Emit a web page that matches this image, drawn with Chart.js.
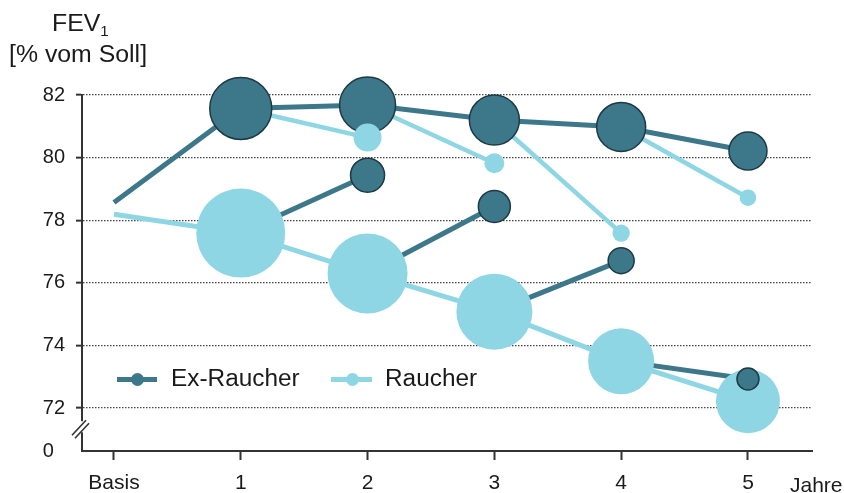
<!DOCTYPE html>
<html>
<head>
<meta charset="utf-8">
<script src="https://cdn.jsdelivr.net/npm/chart.js@4/dist/chart.umd.min.js"></script>
<style>
html,body{margin:0;padding:0;background:#fff;}
#wrap{position:relative;width:844px;height:493px;overflow:hidden;font-family:'Liberation Sans',Arial,Helvetica,sans-serif;color:#1a1a1a;}
canvas{position:absolute;left:0;top:0;}
.t{position:absolute;white-space:nowrap;transform-origin:0 0;}
.lg-line{position:absolute;height:5px;}
.lg-dot{position:absolute;width:13px;height:13px;border-radius:50%;}
</style>
</head>
<body>
<div id="wrap">
  <canvas id="c" width="844" height="493"></canvas>
  <div class="t" style="left:52px;top:12px;font-size:23px;line-height:23px;transform:scaleX(1.08)">FEV<span style="font-size:14px;position:relative;top:5px">1</span></div>
  <div class="t" style="left:9px;top:43px;font-size:23px;line-height:23px;transform:scaleX(1.08)">[% vom Soll]</div>

  <div class="lg-line" style="left:117px;top:377px;width:40px;background:#3d788a"></div>
  <div class="lg-dot" style="left:131px;top:373px;background:#3d788a"></div>
  <div class="t" style="left:171px;top:367px;font-size:23px;line-height:23px;transform:scaleX(1.06)">Ex-Raucher</div>

  <div class="lg-line" style="left:331px;top:377px;width:41px;background:#8ed6e3"></div>
  <div class="lg-dot" style="left:346px;top:373px;background:#8ed6e3"></div>
  <div class="t" style="left:385px;top:367px;font-size:23px;line-height:23px;transform:scaleX(1.06)">Raucher</div>

  <div class="t" style="left:790px;top:474px;font-size:21px;line-height:21px;">Jahre</div>
</div>
<script>
// ---- data ----
const categories = ['Basis', '1', '2', '3', '4', '5'];
const years = [0, 1, 2, 3, 4, 5];
// main groups
const exRaucher = [78.57, 81.57, 81.68, 81.2, 80.98, 80.21];
const raucher   = [78.19, 77.59, 76.3, 75.08, 73.5, 72.22];
// transitions: smokers of previous year who quit / ex-smokers who relapsed
const neueExRaucher = [null, null, 79.44, 78.44, 76.71, 72.93];
const rueckfaellige = [null, null, 80.64, 79.82, 77.59, 78.72];
// bubble sizes (group size)
const exRaucherGroesse = [0, 31, 28, 25, 24.5, 19];
const raucherGroesse   = [0, 44.5, 40, 38, 33, 32];
const neueExRaucherGroesse = [0, 0, 17, 16, 13, 11];
const rueckfaelligeGroesse = [0, 0, 14, 10, 8.7, 8.3];
// axis
const yTicks = [72, 74, 76, 78, 80, 82];
const yBreakValue = 70.63;   // shown as "0" below the axis break
const yBreakLabel = '0  ';

const DARK = '#3d788a', DARK_EDGE = '#1d3a44', LIGHT = '#8ed6e3';

function series(vals) {
  return years.map((x, i) => ({ x: x, y: vals[i] }));
}
function transition(fromVals, toVals) {
  const d = [];
  for (let i = 1; i < years.length; i++) {
    if (toVals[i] == null) continue;
    d.push({ x: years[i - 1], y: fromVals[i - 1] }, { x: years[i], y: toVals[i] }, { x: years[i], y: null });
  }
  return d;
}
function endpoints(vals) {
  return years.map((x, i) => ({ x: x, y: vals[i] })).filter(p => p.y != null);
}

const breakPlugin = {
  id: 'axisBreak',
  afterDraw(chart) {
    const ctx = chart.ctx, ys = chart.scales.y;
    const x0 = ys.right;
    const p72 = ys.getPixelForValue(yTicks[0]);
    const cy = ys.bottom - 0.53 * (ys.bottom - p72);
    ctx.save();
    ctx.fillStyle = '#fff';
    ctx.fillRect(x0 - 3, cy - 7, 6, 11);
    ctx.strokeStyle = '#333';
    ctx.lineWidth = 1.6;
    ctx.beginPath();
    ctx.moveTo(x0 - 10, cy + 7); ctx.lineTo(x0 + 4, cy - 8);
    ctx.moveTo(x0 - 7, cy + 10); ctx.lineTo(x0 + 7, cy - 5);
    ctx.stroke();
    ctx.restore();
  }
};

Chart.defaults.font.family = "'Liberation Sans', Arial, Helvetica, sans-serif";
Chart.defaults.color = '#1a1a1a';

new Chart(document.getElementById('c'), {
  type: 'line',
  data: {
    datasets: [
      { // dark endpoint circles (new ex-smokers)
        data: endpoints(neueExRaucher), showLine: false, clip: false, order: 0,
        pointRadius: neueExRaucherGroesse.filter((r, i) => neueExRaucher[i] != null),
        pointBackgroundColor: DARK, pointBorderColor: DARK_EDGE, pointBorderWidth: 1.5
      },
      { // light endpoint circles (relapsed)
        data: endpoints(rueckfaellige), showLine: false, clip: false, order: 1,
        pointRadius: rueckfaelligeGroesse.filter((r, i) => rueckfaellige[i] != null),
        pointBackgroundColor: LIGHT, pointBorderWidth: 0
      },
      { // Ex-Raucher main line
        label: 'Ex-Raucher', data: series(exRaucher), clip: false, order: 2,
        borderColor: DARK, borderWidth: 5, pointRadius: exRaucherGroesse,
        pointBackgroundColor: DARK, pointBorderColor: DARK_EDGE, pointBorderWidth: 1.5
      },
      { // Raucher main line
        label: 'Raucher', data: series(raucher), clip: false, order: 3,
        borderColor: LIGHT, borderWidth: 5, pointRadius: raucherGroesse,
        pointBackgroundColor: LIGHT, pointBorderWidth: 0
      },
      { // relapse lines
        data: transition(exRaucher, rueckfaellige), clip: false, order: 4, spanGaps: false,
        borderColor: LIGHT, borderWidth: 4.5, pointRadius: 0
      },
      { // quit lines
        data: transition(raucher, neueExRaucher), clip: false, order: 5, spanGaps: false,
        borderColor: DARK, borderWidth: 5, pointRadius: 0
      }
    ]
  },
  options: {
    responsive: false,
    devicePixelRatio: 1,
    animation: false,
    events: [],
    layout: { padding: { top: 95, right: 32, left: 0, bottom: 0 } },
    plugins: { legend: { display: false }, tooltip: { enabled: false } },
    scales: {
      x: {
        type: 'linear', min: -0.252, max: 5.505,
        afterBuildTicks: s => { s.ticks = years.map(v => ({ value: v })); },
        afterFit: s => { s.height = 42; },
        ticks: { callback: v => categories[years.indexOf(v)], font: { size: 21 }, padding: 11, maxRotation: 0, autoSkip: false, color: '#1a1a1a' },
        grid: { drawOnChartArea: false, drawTicks: true, tickLength: 9, tickColor: '#333', tickWidth: 2 },
        border: { display: true, color: '#333', width: 2 }
      },
      y: {
        min: yBreakValue, max: yTicks[yTicks.length - 1],
        afterBuildTicks: s => { s.ticks = [yBreakValue].concat(yTicks).map(v => ({ value: v })); },
        afterFit: s => { s.width = 82; },
        ticks: { callback: v => (v === yBreakValue ? yBreakLabel : String(v)), font: { size: 20 }, padding: 11, color: '#1a1a1a' },
        grid: {
          color: c => (c.tick && c.tick.value === yBreakValue ? 'rgba(0,0,0,0)' : '#444'),
          tickColor: c => (c.tick && c.tick.value === yBreakValue ? 'rgba(0,0,0,0)' : '#333'),
          lineWidth: 1.3, tickLength: 6, tickWidth: 2, drawTicks: true
        },
        border: { display: true, color: '#333', width: 2, dash: [1.5, 1.5] }
      }
    }
  },
  plugins: [breakPlugin]
});
</script>
</body>
</html>
